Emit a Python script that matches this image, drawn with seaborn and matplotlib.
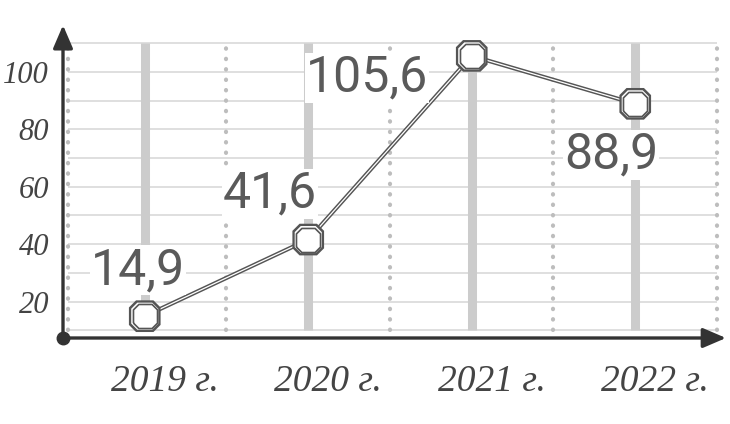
import matplotlib
matplotlib.use("Agg")
import matplotlib.pyplot as plt
import matplotlib.transforms as mtransforms
import seaborn as sns
import pandas as pd

years = ["2019 г.", "2020 г.", "2021 г.", "2022 г."]
values = [14.9, 41.6, 105.6, 88.9]
value_labels = ["14,9", "41,6", "105,6", "88,9"]
y_ticks = [20, 40, 60, 80, 100]
grid_levels = [10, 20, 30, 40, 50, 60, 70, 80, 90, 100, 110]

sns.set_theme(style="white")
plt.rcParams["font.family"] = ["Roboto", "DejaVu Sans"]

df = pd.DataFrame({"pos": list(range(len(years))), "value": values})

fig = plt.figure(figsize=(7.3, 4.24), dpi=100)
ax = fig.add_axes([63 / 730, (424 - 338) / 424, 663.8 / 730, (338 - 20.3) / 424])
y0 = 7.3
ax.set_xlim(-0.5, 3.56)
ax.set_ylim(y0, 118)
for s in ax.spines.values():
    s.set_visible(False)

# horizontal grid
ax.hlines(grid_levels, -0.47, 3.5, color="#dcdcdc", lw=1.3, zorder=0)
# dotted separators
for xv in [-0.5 + i for i in range(5)]:
    ax.vlines(xv + (0.03 if xv == -0.5 else 0), 10, 110, color="#bdbdbd", lw=3.0,
              linestyles=(0, (0.1, 2.4)), capstyle="round", zorder=0.5)
# thick grey stripes
ax.vlines(df["pos"], 10, 110, color="#cccccc", lw=6.5, zorder=1)

# line (double)
sns.lineplot(data=df, x="pos", y="value", color="#555555", lw=3.0, ax=ax, zorder=3)
sns.lineplot(data=df, x="pos", y="value", color="white", lw=0.9, ax=ax, zorder=3.1)

# octagon-like marker (square with cut corners)
c = 0.55
octo = [(-1, -c), (-c, -1), (c, -1), (1, -c), (1, c), (c, 1), (-c, 1), (-1, c), (-1, -c)]

sns.scatterplot(data=df, x="pos", y="value", marker=octo, s=520, color="#555555",
                edgecolor="none", ax=ax, zorder=4)
sns.scatterplot(data=df, x="pos", y="value", marker=octo, s=380, color="white",
                edgecolor="none", ax=ax, zorder=4.1)
sns.scatterplot(data=df, x="pos", y="value", marker=octo, s=300, color="white",
                edgecolor="#555555", linewidth=1.2, ax=ax, zorder=4.2)

# value labels
offsets = [(-7, 51), (-38, 51), (-105, -17), (-24, -46)]
for i, (lbl, off) in enumerate(zip(value_labels, offsets)):
    ax.annotate(lbl, (i, values[i]), xytext=off, textcoords="offset pixels",
                ha="center", va="center_baseline", fontsize=36, color="#5a5a5a",
                fontweight="normal",
                bbox=dict(boxstyle="square,pad=0.02", fc="white", ec="none"), zorder=5)

# axes with arrows
ax.annotate("", xy=(-0.5, 116.3), xytext=(-0.5, y0),
            arrowprops=dict(arrowstyle="-|>,head_length=0.7,head_width=0.3", lw=2.4,
                            color="#333333", mutation_scale=20, shrinkA=0, shrinkB=0),
            annotation_clip=False, zorder=6)
ax.annotate("", xy=(3.555, y0), xytext=(-0.5, y0),
            arrowprops=dict(arrowstyle="-|>,head_length=0.7,head_width=0.3", lw=2.4,
                            color="#333333", mutation_scale=20, shrinkA=0, shrinkB=0),
            annotation_clip=False, zorder=6)
ax.plot([-0.5], [y0], "o", ms=9, color="#333333", clip_on=False, zorder=7)

ax.set_xticks(df["pos"])
ax.set_xticklabels(years)
ax.set_yticks(y_ticks)
ax.set_yticklabels([str(v) for v in y_ticks])
ax.tick_params(axis="x", length=0, pad=19, labelsize=27, colors="#444444")
ax.tick_params(axis="y", length=0, pad=10, labelsize=22, colors="#444444")
for t in ax.get_xticklabels() + ax.get_yticklabels():
    t.set_fontfamily(["Liberation Serif", "DejaVu Serif"])
    t.set_fontstyle("italic")
for t in ax.get_xticklabels():
    t.set_transform(t.get_transform() + mtransforms.ScaledTranslation(0.2, 0, fig.dpi_scale_trans))
ax.set_xlabel("")
ax.set_ylabel("")

fig.savefig("out.png", dpi=100, facecolor="white")
